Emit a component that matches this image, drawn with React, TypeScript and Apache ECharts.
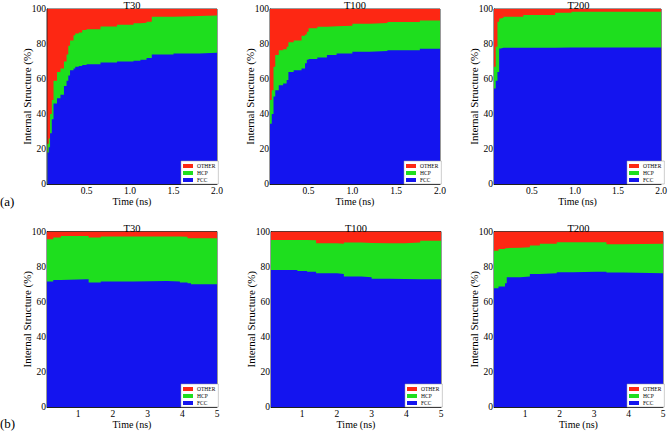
import React, { useEffect, useRef } from "react";
import * as echarts from "echarts";

// ---- Data ----
// Row (a): 0 - 2 ns
const TIME_A_T30 = [0.05, 0.065, 0.08, 0.1, 0.12, 0.16, 0.2, 0.24, 0.27, 0.29, 0.31, 0.35, 0.37, 0.41, 0.45, 0.5, 0.66, 0.85, 1.04, 1.12, 1.19, 1.25, 1.5, 1.8, 2.0];
const FCC_A_T30 = [18, 21, 29, 37, 46, 49, 51, 56, 59, 62, 65, 66, 67, 67.5, 68, 68.5, 69.5, 70, 70.5, 71, 72, 74, 74.6, 75, 75.6];
const HCP_A_T30 = [5, 5, 11, 11, 13, 15, 15, 14, 15, 17, 17, 19, 19, 19.1, 20, 20, 20.5, 21, 21.3, 21.2, 20.7, 21.6, 21.4, 21.3, 21.0];

const TIME_A_T100 = [0.06, 0.08, 0.1, 0.12, 0.16, 0.21, 0.25, 0.27, 0.33, 0.42, 0.46, 0.48, 0.5, 0.6, 0.71, 0.82, 1.0, 1.2, 1.4, 1.77, 2.0];
const FCC_A_T100 = [34.5, 40, 50, 53.6, 56.5, 57.4, 59.4, 64, 65, 66, 69, 71, 71.5, 72.3, 73.7, 74.6, 75.6, 76, 76.5, 77.3, 77.9];
const HCP_A_T100 = [13.5, 13.6, 17, 20.1, 20, 19.6, 19, 17, 17, 18.7, 16.5, 16, 17.5, 17.5, 16.5, 15.9, 16, 16, 16.1, 16.2, 16.4];

const TIME_A_T200 = [0.06, 0.08, 0.1, 0.12, 0.14, 0.17, 0.4, 0.77, 0.96, 2.0];
const FCC_A_T200 = [54.6, 59, 64, 77.5, 77.9, 77.9, 77.9, 78, 78, 78.3];
const HCP_A_T200 = [12.4, 19.4, 28.7, 17.1, 17.1, 17.7, 18.7, 19.9, 20.5, 20.3];

// Row (b): 0 - 5 ns
const TIME_B_T30 = [0.1, 0.28, 0.5, 1.24, 1.3, 1.65, 2.6, 3.55, 3.93, 4.15, 4.25, 5.0];
const FCC_B_T30 = [71.5, 72.4, 72.8, 72.8, 71, 71.5, 71.8, 71.5, 71, 70.5, 70, 70];
const HCP_B_T30 = [24.1, 24.2, 24.7, 24.7, 25.6, 25.7, 25.4, 25.7, 26, 25.7, 26.2, 26.2];

const TIME_B_T100 = [0.1, 0.86, 1.14, 1.4, 2.0, 2.2, 2.7, 3.0, 3.5, 3.95, 4.4, 5.0];
const FCC_B_T100 = [78, 77.5, 77, 76.2, 75.8, 74.3, 73.9, 73.1, 72.9, 72.8, 72.8, 73.1];
const HCP_B_T100 = [17.2, 17.7, 18, 17.1, 17.2, 19.4, 19.6, 20.2, 20.4, 20.9, 21.9, 22.1];

const TIME_B_T200 = [0.1, 0.23, 0.42, 0.47, 0.86, 1.14, 1.43, 1.92, 2.4, 3.07, 3.36, 3.84, 5.0];
const FCC_B_T200 = [67.6, 68.6, 70.5, 73.9, 74.3, 75.8, 76.2, 76.8, 77.1, 77.1, 76.6, 76.2, 76.2];
const HCP_B_T200 = [21.4, 21.4, 20, 16.9, 16.7, 16.2, 16.8, 17.1, 16.8, 16.8, 16.2, 16.8, 16.8];

const X_TICKS_A = [0.5, 1.0, 1.5, 2.0];
const X_TICKS_B = [1, 2, 3, 4, 5];
const Y_TICKS = [0, 20, 40, 60, 80, 100];
const STRUCTURES = ["OTHER", "HCP", "FCC"];
const ROW_LABELS = ["(a)", "(b)"];

const COLORS: Record<string, string> = { OTHER: "#fd2713", HCP: "#1ede1e", FCC: "#1414ef" };
const FONT = "Liberation Serif";

type Panel = {
  title: string;
  time: number[];
  fcc: number[];
  hcp: number[];
  xmin: number;
  xmax: number;
  ticks: number[];
  decimals: number;
  box: { left: number; top: number; width: number; height: number };
};

const PANELS: Panel[] = [
  { title: "T30", time: TIME_A_T30, fcc: FCC_A_T30, hcp: HCP_A_T30, xmin: 0.045, xmax: 2, ticks: X_TICKS_A, decimals: 1, box: { left: 47, top: 9, width: 170, height: 175 } },
  { title: "T100", time: TIME_A_T100, fcc: FCC_A_T100, hcp: HCP_A_T100, xmin: 0.06, xmax: 2, ticks: X_TICKS_A, decimals: 1, box: { left: 270, top: 9, width: 170, height: 175 } },
  { title: "T200", time: TIME_A_T200, fcc: FCC_A_T200, hcp: HCP_A_T200, xmin: 0.06, xmax: 2, ticks: X_TICKS_A, decimals: 1, box: { left: 494, top: 9, width: 169, height: 175 } },
  { title: "T30", time: TIME_B_T30, fcc: FCC_B_T30, hcp: HCP_B_T30, xmin: 0.1, xmax: 5, ticks: X_TICKS_B, decimals: 0, box: { left: 47, top: 231.5, width: 170, height: 175.5 } },
  { title: "T100", time: TIME_B_T100, fcc: FCC_B_T100, hcp: HCP_B_T100, xmin: 0.1, xmax: 5, ticks: X_TICKS_B, decimals: 0, box: { left: 271, top: 231.5, width: 170, height: 175.5 } },
  { title: "T200", time: TIME_B_T200, fcc: FCC_B_T200, hcp: HCP_B_T200, xmin: 0.1, xmax: 5, ticks: X_TICKS_B, decimals: 0, box: { left: 494, top: 231.5, width: 169, height: 175.5 } },
];

function buildOption() {
  const grid: any[] = [];
  const xAxis: any[] = [];
  const yAxis: any[] = [];
  const series: any[] = [];
  const legend: any[] = [];
  const title: any[] = [];

  PANELS.forEach((p, i) => {
    const b = p.box;
    grid.push({ left: b.left, top: b.top, width: b.width, height: b.height, show: true, borderColor: "#000", borderWidth: 0.8, backgroundColor: "transparent" });
    xAxis.push({
      type: "value",
      gridIndex: i,
      min: p.xmin,
      max: p.xmax,
      name: "Time (ns)",
      nameLocation: "middle",
      nameGap: 12,
      nameMoveOverlap: false,
      nameTextStyle: { fontFamily: FONT, fontSize: 10, color: "#000", lineHeight: 10 },
      axisLine: { show: true, lineStyle: { color: "#000", width: 0.8 } },
      axisTick: { show: false },
      splitLine: { show: false },
      axisLabel: {
        customValues: p.ticks,
        formatter: (v: number) => v.toFixed(p.decimals),
        fontFamily: FONT,
        fontSize: 9.5,
        lineHeight: 10,
        color: "#000",
        margin: 1.5,
      },
    });
    yAxis.push({
      type: "value",
      gridIndex: i,
      min: 0,
      max: 100,
      interval: 20,
      name: "Internal Structure (%)",
      nameLocation: "middle",
      nameGap: 15,
      nameMoveOverlap: false,
      nameTextStyle: { fontFamily: FONT, fontSize: 11, color: "#000" },
      axisLine: { show: true, lineStyle: { color: "#000", width: 0.8 } },
      axisTick: { show: false },
      splitLine: { show: false },
      axisLabel: {
        customValues: Y_TICKS,
        fontFamily: FONT,
        fontSize: 9.5,
        color: "#000",
        margin: 1,
      },
    });

    // Cumulative layers: OTHER fills up to 100 (the remainder), HCP sits on FCC.
    const other = p.time.map((_, k) => 100 - p.fcc[k] - p.hcp[k]);
    const cumulative: Record<string, number[]> = {
      FCC: p.fcc,
      HCP: p.time.map((_, k) => p.fcc[k] + p.hcp[k]),
      OTHER: p.time.map((_, k) => p.fcc[k] + p.hcp[k] + other[k]),
    };
    ["OTHER", "HCP", "FCC"].forEach((name, layer) => {
      series.push({
        type: "line",
        name,
        xAxisIndex: i,
        yAxisIndex: i,
        z: 2 + layer,
        step: "end",
        showSymbol: false,
        symbol: "none",
        color: COLORS[name],
        lineStyle: { width: 0, color: COLORS[name] },
        itemStyle: { color: COLORS[name] },
        areaStyle: { color: COLORS[name], opacity: 1, origin: "start" },
        data: p.time.map((t, k) => [t, cumulative[name][k]]),
        silent: true,
      });
    });

    legend.push({
      data: STRUCTURES.map((n) => ({ name: n, icon: "rect" })),
      orient: "vertical",
      left: b.left + b.width - 36,
      top: b.top + b.height - 23,
      itemWidth: 10,
      itemHeight: 4,
      itemGap: 1,
      padding: [2, 3, 1, 2],
      backgroundColor: "#fff",
      borderColor: "#999",
      borderWidth: 0.5,
      selectedMode: false,
      z: 10,
      textStyle: { fontFamily: FONT, fontSize: 5.5, color: "#000", padding: [0, 0, 0, -1] },
    });

    title.push({
      text: p.title,
      left: b.left + b.width / 2,
      top: b.top - 9,
      textAlign: "center",
      padding: 0,
      textStyle: { fontFamily: FONT, fontSize: 10.5, fontWeight: "normal", color: "#000" },
    });
  });

  const graphic = [
    { type: "text", left: 0, top: 195, style: { text: ROW_LABELS[0], fontFamily: FONT, fontSize: 13, fill: "#000" } },
    { type: "text", left: 0, top: 417, style: { text: ROW_LABELS[1], fontFamily: FONT, fontSize: 13, fill: "#000" } },
  ];

  return {
    animation: false,
    backgroundColor: "#fff",
    grid,
    xAxis,
    yAxis,
    series,
    legend,
    title,
    graphic,
  };
}

export default function App() {
  const ref = useRef<HTMLDivElement>(null);
  useEffect(() => {
    if (!ref.current) return;
    const chart = echarts.init(ref.current, undefined, { renderer: "svg" });
    chart.setOption(buildOption() as any);
    return () => chart.dispose();
  }, []);
  return <div ref={ref} style={{ position: "absolute", left: 0, top: 0, width: 670, height: 432 }} />;
}
